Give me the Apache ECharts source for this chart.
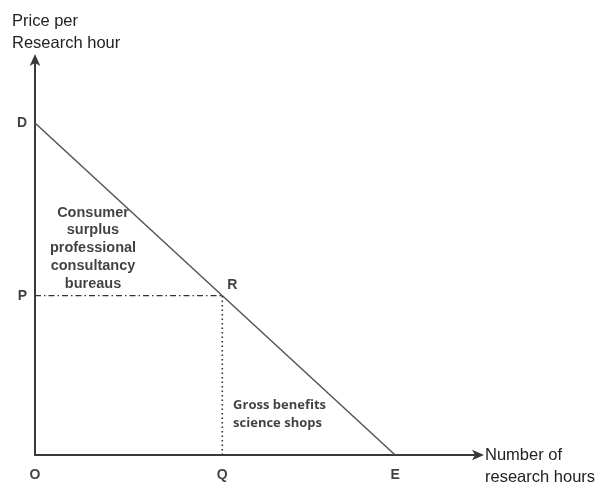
<!DOCTYPE html>
<html><head><meta charset="utf-8">
<script src="https://cdn.jsdelivr.net/npm/echarts@6/dist/echarts.min.js"></script>
<style>html,body{margin:0;padding:0;background:#fff}#c{width:596px;height:483px}</style>
</head><body><div id="c"></div>
<script>
// Demand curve D -> E
const demandLine = [[0, 100], [100, 0]];
// Equilibrium point R (Q, P)
const pointR = [52, 48];
const priceLine = [[0, 48], [52, 48]];
const quantityLine = [[52, 0], [52, 48]];
// Point labels
const pointLabels = [
  {name: 'D', value: [0, 100], pos: 'left'},
  {name: 'P', value: [0, 48], pos: 'left'},
  {name: 'O', value: [0, 0], pos: 'bottom'},
  {name: 'Q', value: [52, 0], pos: 'bottom'},
  {name: 'E', value: [100, 0], pos: 'bottom'},
  {name: 'R', value: [52, 48], pos: 'right'}
];
const areaLabels = [
  {name: 'Consumer\nsurplus\nprofessional\nconsultancy\nbureaus', value: [16.1, 62.3]},
  {name: 'Gross benefits\nscience shops', value: [55, 12.3]}
];
const yAxisTitle = 'Price per\nResearch hour';
const xAxisTitle = 'Number of\nresearch hours';

const chart = echarts.init(document.getElementById('c'));
chart.setOption({
  animation: false,
  grid: {left: 35, right: 118, top: 60, bottom: 28},
  xAxis: {
    type: 'value', min: 0, max: 123,
    splitLine: {show: false}, axisTick: {show: false}, axisLabel: {show: false},
    axisLine: {lineStyle: {color: '#3a3a3a', width: 2}, symbol: ['none', 'arrow'], symbolSize: [8, 12], symbolOffset: [0, 6]}
  },
  yAxis: {
    type: 'value', min: 0, max: 119,
    splitLine: {show: false}, axisTick: {show: false}, axisLabel: {show: false},
    axisLine: {lineStyle: {color: '#3a3a3a', width: 2}, symbol: ['none', 'arrow'], symbolSize: [8, 12], symbolOffset: [0, 6]}
  },
  graphic: [
    {type: 'text', left: 12, top: 10, style: {text: yAxisTitle, font: '16.5px "Liberation Sans", Arial, sans-serif', fill: '#222', lineHeight: 22}},
    {type: 'text', left: 485, top: 444, style: {text: xAxisTitle, font: '16.5px "Liberation Sans", Arial, sans-serif', fill: '#222', lineHeight: 22}}
  ],
  series: [
    {type: 'line', data: demandLine, symbol: 'none', lineStyle: {color: '#555', width: 1.5}, z: 3},
    {type: 'line', data: priceLine, symbol: 'none', lineStyle: {color: '#333', width: 1.3, type: [6, 3, 1.5, 3]}},
    {type: 'line', data: quantityLine, symbol: 'none', lineStyle: {color: '#333', width: 1.6, type: [1.5, 3]}},
    {type: 'scatter', symbolSize: 0, silent: true,
      data: pointLabels.map(p => ({name: p.name, value: p.value,
        label: {show: true, formatter: p.name, position: p.pos,
          distance: p.pos === 'bottom' ? 13 : (p.pos === 'left' ? 8 : 5),
          offset: p.name === 'R' ? [0, -11] : [0, 0],
          color: '#111', fontWeight: 'bold', fontSize: 14, fontFamily: '"Liberation Sans", Arial, sans-serif'}}))
    },
    {type: 'scatter', symbolSize: 0, silent: true,
      data: [
        {name: areaLabels[0].name, value: areaLabels[0].value, label: {show: true, position: 'inside', formatter: areaLabels[0].name, align: 'center', color: '#111', fontWeight: 'bold', fontSize: 14.5, lineHeight: 17.8, fontFamily: '"Liberation Sans", Arial, sans-serif'}},
        {name: areaLabels[1].name, value: areaLabels[1].value, label: {show: true, position: 'inside', formatter: areaLabels[1].name, align: 'left', color: '#111', fontWeight: 'bold', fontSize: 13, lineHeight: 18, fontFamily: '"Open Sans", sans-serif'}}
      ]
    }
  ]
});
</script></body></html>
